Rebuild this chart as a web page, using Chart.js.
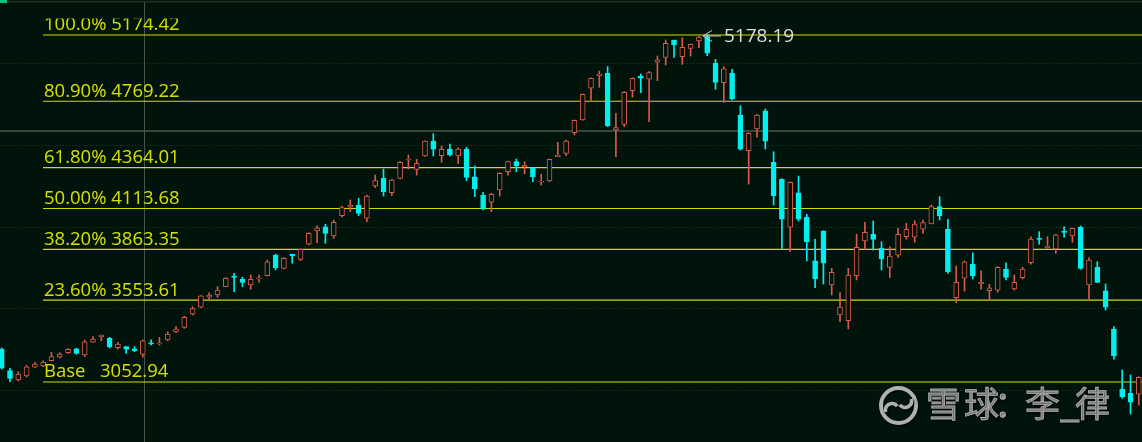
<!DOCTYPE html>
<html>
<head>
<meta charset="utf-8">
<script src="https://cdn.jsdelivr.net/npm/chart.js@4.4.1/dist/chart.umd.min.js"></script>
<style>
  html, body { margin: 0; padding: 0; background: #00140b; }
  #wrap { width: 1142px; height: 442px; }
</style>
</head>
<body>
<div id="wrap"><canvas id="kline" width="1142" height="442"></canvas></div>
<script>
// daily candles (left to right)
const opens = [3253,3122,3065,3090,3143,3151,3183,3204,3232,3255,3218,3296,3330,3320,3263,3269,3256,3222,3293,3285,
  3310,3359,3387,3467,3510,3571,3585,3636,3697,3681,3646,3683,3703,3829,3748,3834,3803,3895,3976,4002,
  3946,4070,4121,4133,4054,4251,4298,4210,4298,4410,4353,4435,4526,4437,4477,4435,4477,4308,4196,4152,
  4227,4339,4400,4369,4363,4274,4282,4430,4451,4577,4655,4849,4926,4940,4594,4628,4834,4924,4905,5008,
  5038,5144,5042,5093,5138,5164,5001,4883,4940,4685,4467,4600,4710,4396,4292,3999,4210,4060,3793,3976,
  3646,3463,3428,3703,3915,3956,3872,3754,3829,3941,3938,3987,4019,4125,3987,3568,3687,3774,3654,3611,
  3615,3744,3622,3691,3782,3931,3874,3866,3976,3946,3999,3646,3754,3611,3377,3008,2984,2978];
const highs = [3261,3137,3116,3154,3173,3183,3234,3232,3257,3259,3310,3330,3341,3326,3296,3270,3269,3310,3310,3326,
  3360,3391,3455,3513,3581,3599,3636,3691,3717,3693,3707,3707,3799,3834,3813,3835,3868,3966,4007,4017,
  4043,4129,4166,4176,4196,4318,4355,4292,4400,4441,4414,4528,4571,4496,4508,4485,4488,4374,4213,4207,
  4333,4404,4416,4400,4364,4323,4416,4518,4532,4655,4814,4913,4954,4981,4696,4828,4913,4936,4950,5046,
  5144,5144,5158,5119,5168,5178.19,5026,4981,4965,4742,4577,4690,4722,4461,4295,4276,4312,4078,3925,3978,
  3748,3599,3748,3956,4029,4037,3911,3880,3993,4023,4039,4043,4135,4186,4048,3762,3793,3843,3733,3650,
  3758,3782,3707,3754,3941,3972,3941,3956,4002,3994,4007,3813,3788,3652,3391,3126,3096,3085];
const lows = [3132,3055,3059,3083,3142,3146,3182,3200,3228,3222,3208,3295,3305,3261,3253,3228,3238,3204,3279,3279,
  3305,3354,3381,3462,3507,3554,3571,3635,3605,3636,3620,3662,3701,3738,3744,3779,3795,3891,3905,3901,
  3931,4060,4094,4070,4033,4241,4190,4192,4294,4355,4318,4432,4435,4396,4435,4388,4284,4186,4105,4094,
  4190,4318,4339,4325,4278,4257,4278,4430,4437,4563,4653,4775,4855,4614,4430,4614,4794,4822,4644,4895,
  4991,5038,4995,5046,5097,5048,4842,4763,4777,4471,4263,4549,4477,4135,3870,3850,4037,3793,3629,3652,
  3585,3422,3377,3677,3864,3860,3738,3691,3815,3925,3907,3962,4019,4043,3717,3538,3609,3683,3620,3550,
  3601,3677,3615,3683,3774,3895,3870,3840,3938,3907,3742,3559,3660,3493,3192,2953,2857,2912];
const closes = [3137,3075,3102,3146,3163,3175,3208,3224,3253,3228,3299,3316,3340,3267,3285,3253,3244,3305,3285,3293,
  3346,3377,3448,3501,3579,3585,3615,3687,3693,3662,3681,3689,3788,3752,3809,3825,3864,3962,3996,3962,
  4029,4119,4135,4084,4190,4284,4216,4288,4396,4416,4390,4526,4477,4476,4441,4477,4304,4233,4109,4201,
  4329,4400,4375,4378,4308,4282,4414,4441,4526,4653,4812,4910,4936,4620,4608,4824,4910,4910,4944,5022,
  5124,5113,5099,5118,5162,5063,4885,4967,4783,4476,4573,4685,4526,4192,4049,4274,4049,3911,3683,3779,
  3724,3511,3707,3876,3968,3925,3805,3823,3956,3987,4019,4027,4125,4068,3727,3662,3788,3701,3662,3629,
  3754,3693,3662,3744,3927,3925,3884,3952,3968,3993,3748,3799,3662,3510,3212,2963,2929,3082];

// fibonacci retracement levels
const fibLabels = ["100.0%", "80.90%", "61.80%", "50.00%", "38.20%", "23.60%", "Base"];
const fibLevels = [5174.42, 4769.22, 4364.01, 4113.68, 3863.35, 3553.61, 3052.94];
const gridTicks = [3000, 3500, 4000, 4500, 5000];

const peakIndex = 85;      // candle carrying the 5178.19 high
const crossIndex = 17;     // cursor position
const crossValue = 4587;

const BG = '#00140b';
const RED = '#d9594b';
const CYAN = '#00f0f0';
const FIB = '#d2db00';

const idx = opens.map((_, i) => i);
const isUp = idx.map(i => closes[i] >= opens[i]);
const xMin = -0.205, xMax = 137.385, fibStart = 4.976;

const decor = {
  id: 'decor',
  beforeDraw(chart) {
    const { ctx, width, height } = chart;
    ctx.save();
    ctx.fillStyle = BG;
    ctx.fillRect(0, 0, width, height);
    ctx.fillStyle = '#1f3027';
    ctx.fillRect(0, 1, width, 1.5);
    ctx.fillStyle = '#00c27c';
    ctx.fillRect(0, 0, 7, 3);
    ctx.restore();
  },
  beforeDatasetsDraw(chart) {
    const { ctx, scales: { x, y }, chartArea } = chart;
    const cx = Math.round(x.getPixelForValue(crossIndex)) + 1.5;
    const cy = y.getPixelForValue(crossValue);
    ctx.save();
    ctx.strokeStyle = '#34463b';
    ctx.lineWidth = 2;
    ctx.beginPath(); ctx.moveTo(0, cy); ctx.lineTo(chartArea.right, cy); ctx.stroke();
    ctx.strokeStyle = '#435449';
    ctx.lineWidth = 1;
    ctx.beginPath(); ctx.moveTo(cx, 2); ctx.lineTo(cx, chartArea.bottom); ctx.stroke();
    ctx.restore();
  },
  afterDatasetsDraw(chart) {
    const { ctx, scales: { x, y } } = chart;

    // level labels
    ctx.save();
    ctx.beginPath(); ctx.rect(0, 18.5, chart.width, chart.height); ctx.clip();
    ctx.font = '18.5px "Open Sans"';
    ctx.fillStyle = '#d6e000';
    fibLevels.forEach((v, i) => {
      const py = y.getPixelForValue(v) - 4.5;
      if (fibLabels[i] === 'Base') {
        ctx.fillText('Base', 44, py);
        ctx.fillText(v.toFixed(2), 100, py);
      } else {
        ctx.fillText(fibLabels[i] + ' ' + v.toFixed(2), 44, py);
      }
    });
    ctx.restore();

    // high marker
    const tx = x.getPixelForValue(peakIndex) - 4.2;
    const ty = y.getPixelForValue(highs[peakIndex]) + 1.6;
    ctx.save();
    ctx.strokeStyle = '#c8cac8';
    ctx.lineWidth = 1;
    ctx.beginPath();
    ctx.moveTo(tx + 9, ty - 5.5); ctx.lineTo(tx, ty); ctx.lineTo(tx + 9, ty + 5.5);
    ctx.moveTo(tx, ty); ctx.lineTo(tx + 18, ty);
    ctx.stroke();
    ctx.font = '19px "Open Sans"';
    ctx.fillStyle = '#dcdedc';
    ctx.fillText(highs[peakIndex].toFixed(2), tx + 21, ty + 6.5);
    ctx.restore();

    // watermark
    ctx.save();
    ctx.shadowColor = 'rgba(0,0,0,0.85)';
    ctx.shadowOffsetX = 1; ctx.shadowOffsetY = 1; ctx.shadowBlur = 2;
    ctx.strokeStyle = '#afb1af';
    ctx.fillStyle = '#afb1af';
    ctx.lineWidth = 4;
    ctx.beginPath(); ctx.arc(898.5, 405.5, 17.5, 0, Math.PI * 2); ctx.stroke();
    ctx.lineWidth = 3.5;
    ctx.beginPath(); ctx.arc(892, 410, 6.5, -0.2 * Math.PI, 0.9 * Math.PI, true); ctx.stroke();
    ctx.beginPath(); ctx.arc(905, 401, 6.5, 0.8 * Math.PI, -0.1 * Math.PI, true); ctx.stroke();
    ctx.font = '35px "Noto Sans CJK SC"';
    ctx.textBaseline = 'middle';
    ctx.lineWidth = 0.8;
    const marks = [['雪', 926], ['球', 964], ['：', 994], ['李', 1025], ['_', 1060], ['律', 1075]];
    marks.forEach(([ch, px]) => { ctx.fillText(ch, px, 404); ctx.strokeText(ch, px, 404); });
    ctx.restore();
  }
};

new Chart(document.getElementById('kline'), {
  type: 'bar',
  data: {
    datasets: [
      {
        label: 'body',
        data: idx.map(i => ({ x: i, y: [opens[i], closes[i]] })),
        backgroundColor: isUp.map(u => u ? BG : CYAN),
        borderColor: isUp.map(u => u ? RED : CYAN),
        borderWidth: 1,
        borderSkipped: false,
        barThickness: 5,
        minBarLength: 1,
        grouped: false
      },
      {
        label: 'wick',
        data: idx.map(i => ({ x: i, y: [lows[i], highs[i]] })),
        backgroundColor: isUp.map(u => u ? RED : CYAN),
        barThickness: 1,
        grouped: false
      },
      ...fibLevels.map(v => ({
        type: 'line',
        label: 'fib',
        data: [{ x: fibStart, y: v }, { x: xMax, y: v }],
        borderColor: FIB,
        borderWidth: 1.2,
        pointRadius: 0
      }))
    ]
  },
  options: {
    responsive: false,
    animation: false,
    events: [],
    layout: { padding: 0 },
    plugins: { legend: { display: false }, tooltip: { enabled: false } },
    scales: {
      x: { type: 'linear', display: false, min: xMin, max: xMax, offset: false },
      y: {
        type: 'linear',
        min: 2686,
        max: 5388.4,
        beginAtZero: false,
        afterBuildTicks: s => { s.ticks = gridTicks.map(v => ({ value: v })); },
        ticks: { display: false },
        grid: { color: '#1d3a2a', drawTicks: false, lineWidth: 1 },
        border: { display: false, dash: [1, 2] }
      }
    }
  },
  plugins: [decor]
});
</script>
</body>
</html>
